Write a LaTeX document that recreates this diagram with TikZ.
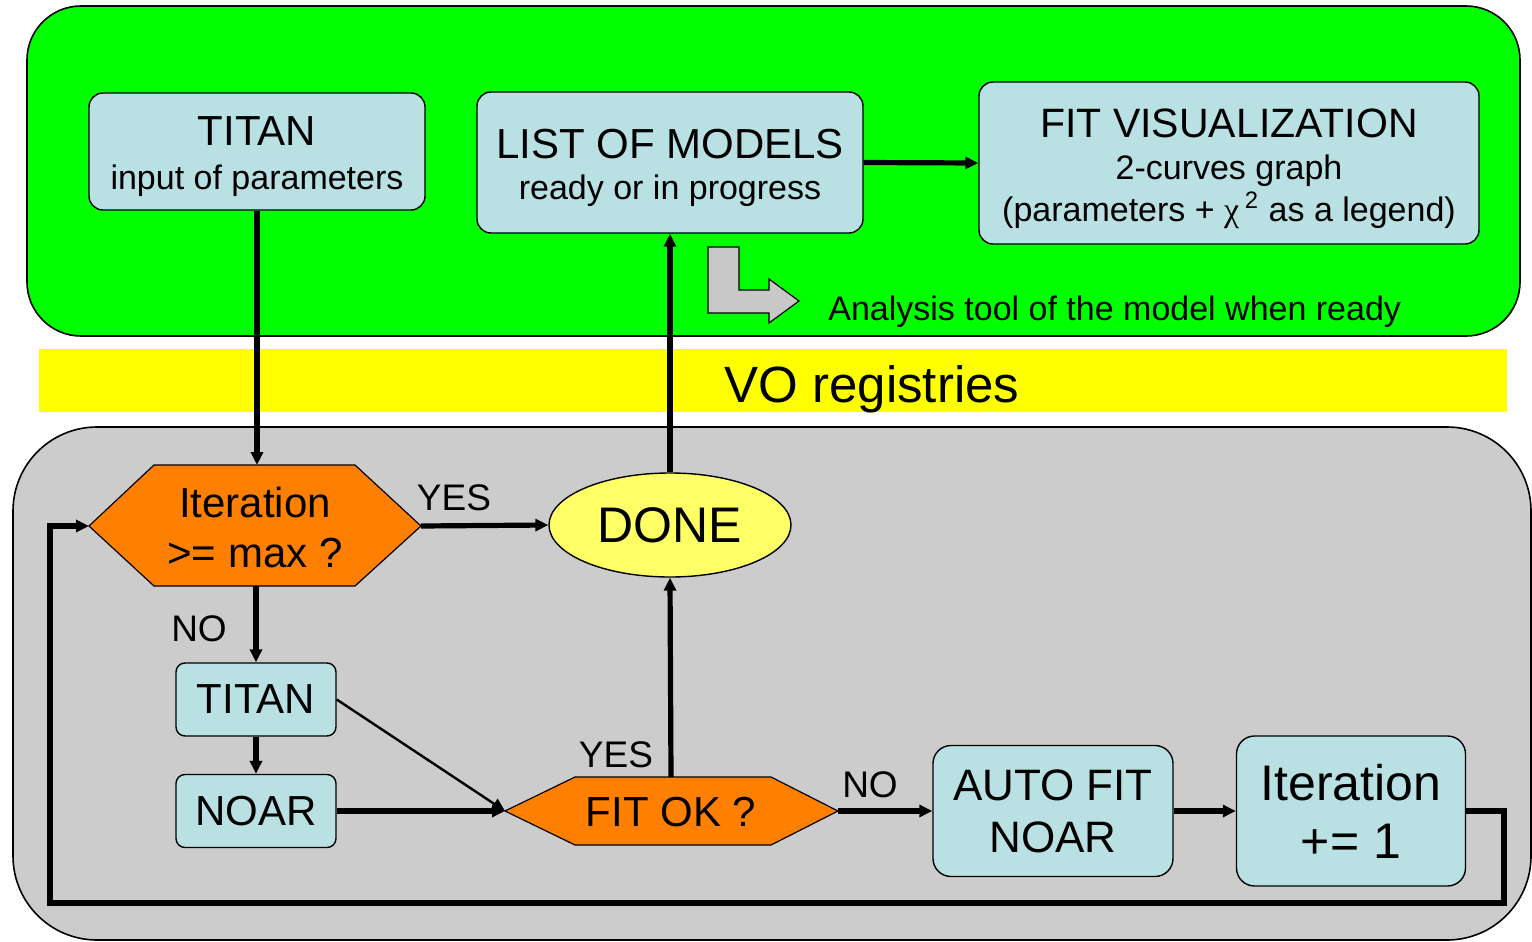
\documentclass[tikz,border=0pt]{standalone}
\usepackage{fontspec}
\setmainfont{Liberation Sans}
\newfontfamily\greekserif{Liberation Serif}
\usetikzlibrary{arrows.meta,shapes.geometric}

\definecolor{toppanel}{RGB}{0,255,0}
\definecolor{bottompanel}{RGB}{204,204,204}
\definecolor{registryband}{RGB}{255,255,0}
\definecolor{boxblue}{RGB}{185,224,227}
\definecolor{testorange}{RGB}{255,128,0}
\definecolor{doneyellow}{RGB}{255,255,102}
\definecolor{hintgray}{RGB}{200,200,200}

\newcommand{\bigtxt}{\fontsize{21}{25}\selectfont}
\newcommand{\medtxt}{\fontsize{17}{21}\selectfont}
\newcommand{\hugetxt}{\fontsize{25}{29}\selectfont}
\newcommand{\labeltxt}{\fontsize{18.5}{22}\selectfont}
\newcommand{\headstrut}{\rule{0pt}{20pt}}

\begin{document}
\begin{tikzpicture}[x=0.5pt, y=-0.5pt,
    box/.style={draw, line width=0.7pt, fill=boxblue, rounded corners=7pt, align=center, inner sep=0pt},
    flow/.style={line width=2.6pt, -{Triangle[length=6.5pt, width=6pt]}},
    thinflow/.style={line width=1.2pt, -{Triangle[length=6.5pt, width=6pt]}},
    decision/.style={draw, line width=0.6pt, fill=testorange},
    tag/.style={anchor=base, inner sep=0pt, font=\labeltxt}]
    \useasboundingbox (0,0) rectangle (1532,942);
    \draw[line width=0.8pt, fill=toppanel, rounded corners=27pt] (27,6) rectangle (1520,336);
    \draw[line width=0.8pt, fill=bottompanel, rounded corners=42pt] (13,427) rectangle (1531,940);
    \fill[registryband] (39,349) rectangle (1507,412);
    \node[anchor=base, inner sep=0pt, font=\fontsize{25.5}{30}\selectfont] (vo) at (872,402) {VO registries};

    \node[box, minimum width=168pt, minimum height=58.5pt, font=\fontsize{21}{22}\selectfont] (titanTop) at (257,151.5) {\headstrut TITAN\\\medtxt input of parameters};
    \node[box, minimum width=193pt, minimum height=70.5pt, font=\fontsize{21}{20.5}\selectfont] (listModels) at (670,162.5) {\headstrut LIST OF MODELS\\\medtxt ready or in progress};
    \node[box, minimum width=250pt, minimum height=81pt, font=\fontsize{20.5}{21}\selectfont] (fitVis) at (1229,163) {\headstrut FIT VISUALIZATION\\\medtxt 2-curves graph\\\medtxt (parameters + {\greekserif χ}\,\textsuperscript{2} as a legend)};
    \filldraw[fill=hintgray, line width=0.6pt] (708,247) -- (739,247) -- (739,290) -- (769,290) -- (769,279) -- (799,301) -- (769,323) -- (769,313) -- (708,313) -- cycle;
    \node[anchor=base west, inner sep=0pt, font=\medtxt] (hint) at (828,320) {Analysis tool of the model when ready};

    \coordinate (hexA-w) at (89,526);
    \coordinate (hexA-nw) at (154,465);
    \coordinate (hexA-n) at (257,465);
    \coordinate (hexA-ne) at (355,465);
    \coordinate (hexA-e) at (421,526);
    \coordinate (hexA-se) at (355,586);
    \coordinate (hexA-s) at (256,586);
    \coordinate (hexA-sw) at (154,586);
    \filldraw[decision] (hexA-w) -- (hexA-nw) -- (hexA-ne) -- (hexA-e) -- (hexA-se) -- (hexA-sw) -- cycle;
    \node[align=center, font=\bigtxt] (iterTest) at (255,527) {Iteration\\>= max ?};

    \coordinate (fitTest-w) at (505,811);
    \coordinate (fitTest-nw) at (575,777);
    \coordinate (fitTest-n) at (671,777);
    \coordinate (fitTest-ne) at (771,777);
    \coordinate (fitTest-e) at (838,811);
    \coordinate (fitTest-se) at (771,845);
    \coordinate (fitTest-sw) at (575,845);
    \filldraw[decision] (fitTest-w) -- (fitTest-nw) -- (fitTest-ne) -- (fitTest-e) -- (fitTest-se) -- (fitTest-sw) -- cycle;
    \node[font=\bigtxt] (fitTest) at (671,812) {FIT OK ?};

    \node[ellipse, draw, line width=0.7pt, fill=doneyellow, minimum width=121pt, minimum height=52pt, inner sep=0pt, font=\hugetxt] (done) at (670,525) {DONE};
    \node[box, rounded corners=4.5pt, minimum width=80pt, minimum height=36.5pt, font=\bigtxt] (titanLow) at (256,699.5) {TITAN};
    \node[box, rounded corners=4.5pt, minimum width=80pt, minimum height=36.5pt, font=\bigtxt] (noar) at (256,811) {NOAR};
    \node[box, rounded corners=9pt, minimum width=120pt, minimum height=65.5pt, font=\fontsize{22}{26}\selectfont] (autoFit) at (1053,811) {AUTO FIT\\NOAR};
    \node[box, rounded corners=9pt, minimum width=114.5pt, minimum height=75pt, font=\hugetxt] (iterStep) at (1351,811) {Iteration\\+= 1};
    \coordinate (loopR) at (1504,903);
    \coordinate (loopL) at (50,903);

    \draw[flow] (titanTop.south) -- (hexA-n);
    \draw[flow] (hexA-e) -- (done.west);
    \draw[flow] (hexA-s) -- (titanLow.north);
    \draw[flow] (titanLow.south) -- (noar.north);
    \draw[thinflow] (titanLow.east) -- (fitTest-w);
    \draw[flow] (noar.east) -- (fitTest-w);
    \draw[flow] (fitTest-n) -- (done.south);
    \draw[flow] (done.north) -- (listModels.south);
    \draw[flow] (listModels.east) -- (fitVis.west);
    \draw[flow] (fitTest-e) -- (autoFit.west);
    \draw[flow] (autoFit.east) -- (iterStep.west);
    \draw[flow] (iterStep.east) -| (loopR) -- (loopL) |- (hexA-w);

    \node[tag] (yesTop) at (454,510) {YES};
    \node[tag] (noLeft) at (199,641) {NO};
    \node[tag] (yesLow) at (616,767) {YES};
    \node[tag] (noRight) at (870,797) {NO};
\end{tikzpicture}
\end{document}
